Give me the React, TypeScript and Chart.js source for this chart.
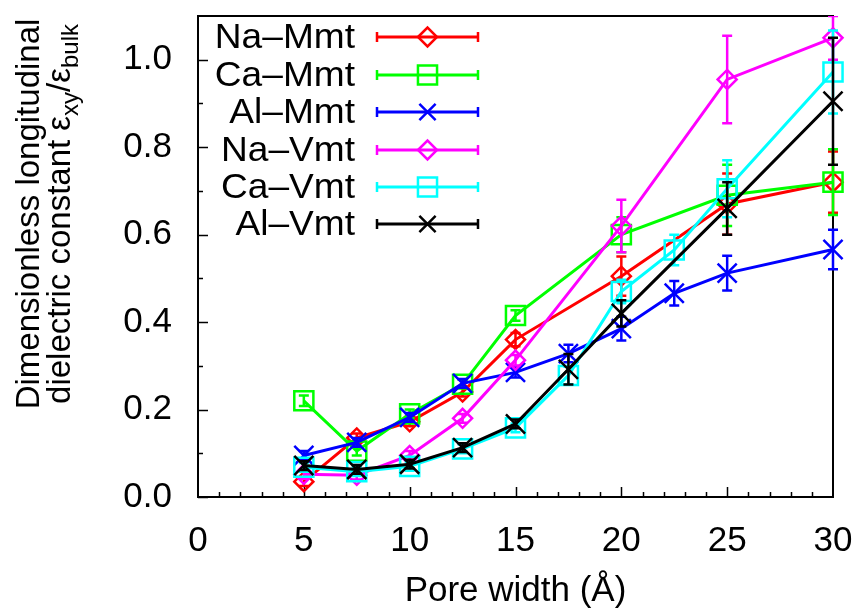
import React, { useEffect, useRef } from "react";
import { Chart, registerables } from "chart.js";

Chart.register(...registerables);

// ---------- data ----------
const naMmtX = [5, 7.5, 10, 12.5, 15, 20, 25, 30];
const naMmtY = [0.035, 0.135, 0.172, 0.24, 0.36, 0.505, 0.67, 0.72];
const naMmtErr = [0.01, 0.01, 0.01, 0.01, 0.015, 0.045, 0.07, 0.07];

const caMmtX = [5, 7.5, 10, 12.5, 15, 20, 25, 30];
const caMmtY = [0.22, 0.105, 0.19, 0.258, 0.415, 0.6, 0.69, 0.72];
const caMmtErr = [0.012, 0.01, 0.01, 0.01, 0.012, 0.04, 0.07, 0.075];

const alMmtX = [5, 7.5, 10, 12.5, 15, 17.5, 20, 22.5, 25, 30];
const alMmtY = [0.095, 0.125, 0.182, 0.26, 0.285, 0.328, 0.385, 0.466, 0.512, 0.566];
const alMmtErr = [0.01, 0.01, 0.01, 0.01, 0.012, 0.02, 0.027, 0.028, 0.04, 0.045];

const naVmtX = [5, 7.5, 10, 12.5, 15, 20, 25, 30];
const naVmtY = [0.052, 0.05, 0.095, 0.18, 0.313, 0.62, 0.955, 1.05];
const naVmtErr = [0.01, 0.01, 0.01, 0.01, 0.012, 0.06, 0.1, 0.05];

const caVmtX = [5, 7.5, 10, 12.5, 15, 17.5, 20, 22.5, 25, 30];
const caVmtY = [0.068, 0.058, 0.07, 0.11, 0.158, 0.278, 0.47, 0.565, 0.705, 0.972];
const caVmtErr = [0.01, 0.01, 0.01, 0.01, 0.01, 0.02, 0.027, 0.035, 0.065, 0.095];

const alVmtX = [5, 7.5, 10, 12.5, 15, 17.5, 20, 25, 30];
const alVmtY = [0.072, 0.063, 0.075, 0.113, 0.167, 0.292, 0.42, 0.66, 0.905];
const alVmtErr = [0.01, 0.01, 0.01, 0.01, 0.01, 0.035, 0.03, 0.06, 0.145];

const SERIES_NAMES = ["Na\u2013Mmt", "Ca\u2013Mmt", "Al\u2013Mmt", "Na\u2013Vmt", "Ca\u2013Vmt", "Al\u2013Vmt"];
const SERIES_COLORS = ["#ff0000", "#00ff00", "#0000ff", "#ff00ff", "#00ffff", "#000000"];
const SERIES_MARKERS = ["rectRot", "rect", "crossRot", "rectRot", "rect", "crossRot"];

const X_TICKS = [0, 5, 10, 15, 20, 25, 30];
const Y_TICKS = [0.0, 0.2, 0.4, 0.6, 0.8, 1.0];
const Y_MINOR = [0.1, 0.3, 0.5, 0.7, 0.9];
const X_TITLE = "Pore width (\u00c5)";
const Y_TITLE_LINE1 = "Dimensionless longitudinal";
const Y_TITLE_LINE2 = [
  { t: "dielectric constant \u03b5", sub: false },
  { t: "xy", sub: true },
  { t: "/\u03b5", sub: false },
  { t: "bulk", sub: true },
];

const SERIES = [
  { x: naMmtX, y: naMmtY, err: naMmtErr },
  { x: caMmtX, y: caMmtY, err: caMmtErr },
  { x: alMmtX, y: alMmtY, err: alMmtErr },
  { x: naVmtX, y: naVmtY, err: naVmtErr },
  { x: caVmtX, y: caVmtY, err: caVmtErr },
  { x: alVmtX, y: alVmtY, err: alVmtErr },
].map((s, i) => ({ ...s, name: SERIES_NAMES[i], color: SERIES_COLORS[i], marker: SERIES_MARKERS[i] }));

// ---------- styling ----------
const FONT = "'Liberation Sans', Arial, Helvetica, sans-serif";
const FS = 35;
const FS_TITLE = 33;
const W = 859;
const H = 609;
const markerRadius = (m: string) => (m === "rectRot" ? 9.5 : m === "rect" ? 13.5 : 13.5);

function drawMarker(ctx: CanvasRenderingContext2D, style: string, x: number, y: number, r: number) {
  ctx.beginPath();
  if (style === "rect") {
    const s = Math.SQRT1_2 * r;
    ctx.rect(x - s, y - s, 2 * s, 2 * s);
  } else if (style === "rectRot") {
    ctx.moveTo(x - r, y);
    ctx.lineTo(x, y - r);
    ctx.lineTo(x + r, y);
    ctx.lineTo(x, y + r);
    ctx.closePath();
  } else {
    const o = Math.SQRT1_2 * r;
    ctx.moveTo(x - o, y - o);
    ctx.lineTo(x + o, y + o);
    ctx.moveTo(x + o, y - o);
    ctx.lineTo(x - o, y + o);
  }
  ctx.stroke();
}

const errorBarPlugin = {
  id: "errorBars",
  afterDatasetDraw(chart: any, args: any) {
    const s = SERIES[args.index];
    if (!s) return;
    const ctx = chart.ctx as CanvasRenderingContext2D;
    const xs = chart.scales.x;
    const ys = chart.scales.y;
    const a = chart.chartArea;
    ctx.save();
    ctx.beginPath();
    ctx.rect(a.left - 20, a.top, a.right - a.left + 40, a.bottom - a.top);
    ctx.clip();
    ctx.strokeStyle = s.color;
    ctx.lineWidth = 2.5;
    ctx.lineCap = "butt";
    s.x.forEach((xv: number, j: number) => {
      const px = xs.getPixelForValue(xv);
      const y1 = ys.getPixelForValue(s.y[j] - s.err[j]);
      const y2 = ys.getPixelForValue(s.y[j] + s.err[j]);
      ctx.beginPath();
      ctx.moveTo(px, y1);
      ctx.lineTo(px, y2);
      ctx.moveTo(px - 5, y1);
      ctx.lineTo(px + 5, y1);
      ctx.moveTo(px - 5, y2);
      ctx.lineTo(px + 5, y2);
      ctx.stroke();
    });
    ctx.restore();
  },
};

const framePlugin = {
  id: "frameTicks",
  beforeDatasetsDraw(chart: any) {
    const ctx = chart.ctx as CanvasRenderingContext2D;
    const a = chart.chartArea;
    const xs = chart.scales.x;
    const ys = chart.scales.y;
    ctx.save();
    ctx.strokeStyle = "#000";
    ctx.lineWidth = 2;
    ctx.strokeRect(a.left, a.top, a.right - a.left, a.bottom - a.top);
    ctx.lineWidth = 1.5;
    ctx.beginPath();
    Y_TICKS.forEach((v) => {
      const py = Math.round(ys.getPixelForValue(v)) + 0.5;
      ctx.moveTo(a.left, py);
      ctx.lineTo(a.left + 10, py);
    });
    Y_MINOR.forEach((v) => {
      const py = Math.round(ys.getPixelForValue(v)) + 0.5;
      ctx.moveTo(a.left, py);
      ctx.lineTo(a.left + 5, py);
    });
    for (let v = 1; v < 30; v++) {
      const px = Math.round(xs.getPixelForValue(v)) + 0.5;
      const len = X_TICKS.includes(v) ? 10 : 5;
      ctx.moveTo(px, a.bottom);
      ctx.lineTo(px, a.bottom - len);
    }
    ctx.stroke();
    ctx.restore();
  },
  afterDraw(chart: any) {
    const ctx = chart.ctx as CanvasRenderingContext2D;
    const a = chart.chartArea;
    ctx.save();
    ctx.fillStyle = "#000";
    // x title
    ctx.font = `${FS}px ${FONT}`;
    ctx.textAlign = "center";
    ctx.textBaseline = "alphabetic";
    ctx.fillText(X_TITLE, (a.left + a.right) / 2, 601);

    // y title
    const cy = 214;
    const mainTitleFont = `${FS_TITLE}px ${FONT}`;
    const subFont = `${Math.round(FS_TITLE * 0.72)}px ${FONT}`;
    ctx.font = mainTitleFont;
    ctx.save();
    ctx.translate(39, cy);
    ctx.rotate(-Math.PI / 2);
    ctx.textAlign = "center";
    ctx.fillText(Y_TITLE_LINE1, 0, 0);
    ctx.restore();

    let total = 0;
    Y_TITLE_LINE2.forEach((p) => {
      ctx.font = p.sub ? subFont : mainTitleFont;
      total += ctx.measureText(p.t).width;
    });
    ctx.save();
    ctx.translate(70, cy);
    ctx.rotate(-Math.PI / 2);
    ctx.textAlign = "left";
    let cx = -total / 2;
    Y_TITLE_LINE2.forEach((p) => {
      ctx.font = p.sub ? subFont : mainTitleFont;
      ctx.fillText(p.t, cx, p.sub ? 8 : 0);
      cx += ctx.measureText(p.t).width;
    });
    ctx.restore();

    // legend
    const rows = [37, 75, 112, 150, 187, 224];
    SERIES.forEach((s, i) => {
      const y = rows[i];
      ctx.save();
      ctx.font = `${FS}px ${FONT}`;
      ctx.fillStyle = "#000";
      ctx.textAlign = "right";
      ctx.textBaseline = "middle";
      ctx.translate(355, y + 1);
      ctx.scale(1.06, 1);
      ctx.fillText(s.name, 0, 0);
      ctx.restore();
      ctx.strokeStyle = s.color;
      ctx.lineWidth = 3;
      ctx.beginPath();
      ctx.moveTo(377, y);
      ctx.lineTo(478, y);
      ctx.stroke();
      ctx.lineWidth = 2.5;
      ctx.beginPath();
      ctx.moveTo(377, y - 5);
      ctx.lineTo(377, y + 5);
      ctx.moveTo(478, y - 5);
      ctx.lineTo(478, y + 5);
      ctx.stroke();
      drawMarker(ctx, s.marker, 427.5, y, markerRadius(s.marker) * (s.marker === "crossRot" ? 0.85 : 1));
    });
    ctx.restore();
  },
};

export default function App() {
  const canvasRef = useRef<HTMLCanvasElement | null>(null);

  useEffect(() => {
    document.body.style.margin = "0";
    const canvas = canvasRef.current;
    if (!canvas) return;
    const datasets = SERIES.map((s, i) => ({
      label: s.name,
      data: s.x.map((xv, j) => ({ x: xv, y: s.y[j] })),
      borderColor: s.color,
      backgroundColor: "rgba(0,0,0,0)",
      borderWidth: 3,
      pointStyle: s.marker,
      pointRadius: markerRadius(s.marker),
      pointBorderWidth: 2.5,
      pointBackgroundColor: "rgba(0,0,0,0)",
      pointBorderColor: s.color,
      tension: 0,
      clip: false as any,
      order: SERIES.length - 1 - i,
    }));

    const chart = new Chart(canvas, {
      type: "line",
      data: { datasets },
      plugins: [errorBarPlugin, framePlugin],
      options: {
        animation: false,
        responsive: false,
        devicePixelRatio: 1,
        layout: { padding: { top: 10, right: 26, left: 0, bottom: 0 } },
        plugins: { legend: { display: false }, tooltip: { enabled: false }, title: { display: false } },
        scales: {
          x: {
            type: "linear",
            min: 0,
            max: 30,
            afterBuildTicks: (s: any) => {
              s.ticks = X_TICKS.map((v) => ({ value: v }));
            },
            afterFit: (s: any) => {
              s.height = 112;
              s.paddingLeft = 0;
              s.paddingRight = 0;
            },
            grid: { display: false, drawTicks: false },
            border: { display: false },
            ticks: {
              font: { family: FONT, size: FS },
              color: "#000",
              padding: 23,
              maxRotation: 0,
              autoSkip: false,
              callback: (v: any) => String(v),
            },
          },
          y: {
            type: "linear",
            min: 0,
            max: 1.1,
            afterBuildTicks: (s: any) => {
              s.ticks = Y_TICKS.map((v) => ({ value: v }));
            },
            afterFit: (s: any) => {
              s.width = 198;
              s.paddingTop = 0;
              s.paddingBottom = 0;
            },
            grid: { display: false, drawTicks: false },
            border: { display: false },
            ticks: {
              font: { family: FONT, size: FS },
              color: "#000",
              padding: 26,
              autoSkip: false,
              callback: (v: any) => Number(v).toFixed(1),
            },
          },
        },
      },
    });
    return () => chart.destroy();
  }, []);

  return (
    <div style={{ width: W, height: H }}>
      <canvas ref={canvasRef} width={W} height={H} style={{ display: "block" }} />
    </div>
  );
}
